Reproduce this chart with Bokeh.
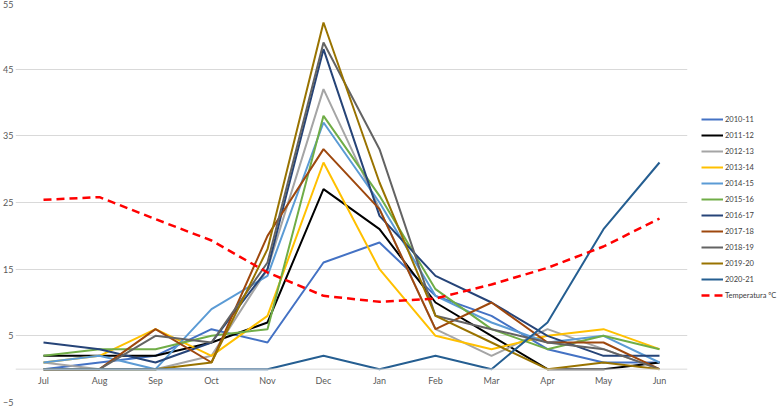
from bokeh.plotting import figure
from bokeh.models import FactorRange, Range1d, FixedTicker, Legend, LegendItem, Span, ColumnDataSource
from bokeh.core.properties import value
from bokeh.embed import file_html
from bokeh.resources import INLINE

months = ["Jul", "Aug", "Sep", "Oct", "Nov", "Dec", "Jan", "Feb", "Mar", "Apr", "May", "Jun"]

s2010_11 = [0, 1, 2, 6, 4, 16, 19, 11, 8, 3, 1, 1]
s2011_12 = [2, 2, 2, 4, 7, 27, 21, 10, 5, 0, 0, 1]
s2012_13 = [1, 0, 0, 2, 15, 42, 24, 6, 2, 6, 3, 0]
s2013_14 = [1, 2, 6, 2, 8, 31, 15, 5, 3, 5, 6, 3]
s2014_15 = [1, 2, 0, 9, 14, 37, 25, 11, 7, 4, 5, 1]
s2015_16 = [2, 3, 3, 5, 6, 38, 26, 12, 6, 3, 5, 3]
s2016_17 = [4, 3, 1, 4, 15, 48, 23, 14, 10, 5, 2, 2]
s2017_18 = [0, 0, 6, 1, 20, 33, 24, 6, 10, 4, 4, 0]
s2018_19 = [0, 0, 5, 4, 16, 49, 33, 8, 6, 4, 3, 0]
s2019_20 = [0, 0, 0, 1, 18, 52, 28, 8, 4, 0, 1, 0]
s2020_21 = [0, 0, 0, 0, 0, 2, 0, 2, 0, 7, 21, 31]
temperatura = [25.4, 25.8, 22.5, 19.3, 14.5, 11.0, 10.1, 10.6, 12.7, 15.2, 18.4, 22.6]

series_names = ["2010-11", "2011-12", "2012-13", "2013-14", "2014-15", "2015-16",
                "2016-17", "2017-18", "2018-19", "2019-20", "2020-21"]
series_values = [s2010_11, s2011_12, s2012_13, s2013_14, s2014_15, s2015_16,
                 s2016_17, s2017_18, s2018_19, s2019_20, s2020_21]
series_colors = ["#4472C4", "#000000", "#A5A5A5", "#FFC000", "#5B9BD5", "#70AD47",
                 "#264478", "#9E480E", "#636363", "#997300", "#255E91"]
y_ticks = [-5, 5, 15, 25, 35, 45, 55]

FONT = "Lato"

p = figure(x_range=FactorRange(*months, range_padding=0), y_range=Range1d(-5, 55),
           frame_width=672, frame_height=400, min_border_top=2, min_border_bottom=6,
           min_border_left=0, min_border_right=0,
           output_backend="svg", toolbar_location=None, x_axis_location=None)
p.outline_line_color = None
p.background_fill_color = "white"
p.border_fill_color = "white"

p.yaxis.ticker = FixedTicker(ticks=y_ticks)
p.yaxis.axis_line_color = None
p.yaxis.major_tick_line_color = None
p.yaxis.minor_tick_line_color = None
p.yaxis.major_tick_out = 0
p.yaxis.major_tick_in = 0
p.yaxis.minor_tick_out = 0
p.yaxis.minor_tick_in = 0
p.yaxis.major_label_text_font = FONT
p.yaxis.major_label_text_font_size = "9px"
p.yaxis.major_label_text_color = "#595959"
p.yaxis.major_label_standoff = 2
p.ygrid.ticker = FixedTicker(ticks=y_ticks)
p.ygrid.grid_line_color = "#D9D9D9"
p.ygrid.grid_line_width = 1
p.xgrid.grid_line_color = None

p.add_layout(Span(location=0, dimension="width", line_color="#D9D9D9", line_width=1))

src = ColumnDataSource(dict(m=months, z=[0] * len(months)))
p.text(x="m", y="z", text="m", source=src, y_offset=6, text_align="center",
       text_baseline="top", text_font=value(FONT), text_font_size="9px", text_color="#595959")

items = []
for name, vals, col in zip(series_names, series_values, series_colors):
    r = p.line(months, vals, line_color=col, line_width=2)
    items.append(LegendItem(label=name, renderers=[r]))
rt = p.line(months, temperatura, line_color="#FF0000", line_width=2.5, line_dash="8 5")
items.append(LegendItem(label="Temperatura ºC", renderers=[rt]))

legend = Legend(items=items, location=(14, 101), orientation="vertical",
                glyph_width=22, glyph_height=12, label_height=12, spacing=4,
                label_standoff=2, padding=0, margin=0,
                label_text_font=FONT, label_text_font_size="7.5px", label_text_color="#404040",
                border_line_color=None, background_fill_alpha=0)
p.add_layout(legend, "right")
p.min_border_right = 96

open("out.html", "w").write(file_html(p, INLINE))
